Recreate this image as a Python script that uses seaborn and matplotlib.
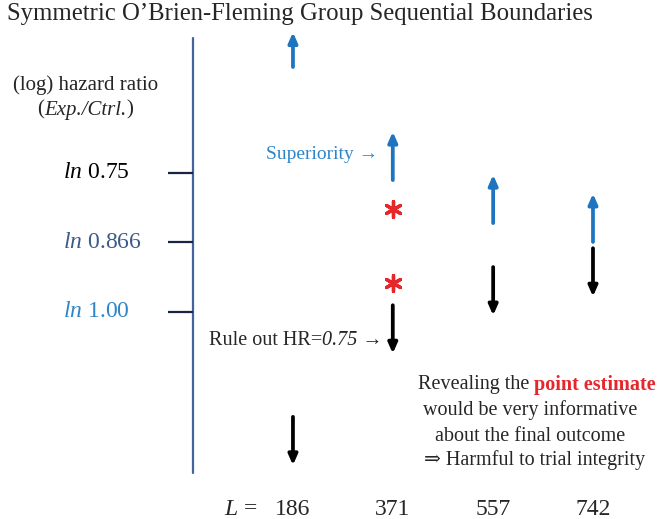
import numpy as np
import seaborn as sns
from matplotlib import pyplot as plt

# interim looks (number of events) and boundaries on the log hazard ratio scale
looks = [186, 371, 557, 742]
upper_bound = [-0.507, -0.273, -0.184, -0.145]   # superiority (blue, up)
lower_bound = [0.217, -0.014, -0.093, -0.132]    # rule out HR=0.75 (black, down)
ref_hr = [0.75, 0.866, 1.00]
ref_labels = ['0.75', '0.866', '1.00']
ref_colors = ['black', '#3d5a8c', '#2e86c8']
estimate_look = 371
point_estimates = [-0.213, -0.060]

sns.set_theme(style='white')
plt.rcParams['font.family'] = ['Liberation Serif', 'DejaVu Serif']
plt.rcParams['mathtext.fontset'] = 'custom'
plt.rcParams['mathtext.rm'] = 'Liberation Serif'
plt.rcParams['mathtext.it'] = 'Liberation Serif:italic'
plt.rcParams['mathtext.bf'] = 'Liberation Serif:bold'

blue = '#1f74c0'
red = '#e5262b'
fig = plt.figure(figsize = (6.62, 5.19), dpi = 100)
ax = fig.add_axes([0, 0, 1, 1])
ax.set_xlim(-356.9, 869.9)
ax.set_ylim(0.4284, -0.6457)
ax.set_axis_off()

# vertical axis and reference ticks
ax.plot([0, 0], [-0.567, 0.333], color = '#44649e', lw = 1.6)
ref_y = np.log(ref_hr)
ax.hlines(ref_y, -45, 0, color = '#1a2440', lw = 1.6)
for y, lab, c in zip(ref_y, ref_labels, ref_colors):
    ax.text(-240, y, r'$\mathit{ln}$ ' + lab, color = c, fontsize = 17,
            ha = 'left', va = 'center')

ax.text(-199, -0.470, '(log) hazard ratio', fontsize = 15, ha = 'center', va = 'center')
t = ax.text(-199, -0.418, 'Exp./Ctrl.', fontsize = 15, style = 'italic',
            ha = 'center', va = 'center')
ax.annotate('(', xy = (0, 0.5), xycoords = t, fontsize = 15, ha = 'right', va = 'center')
ax.annotate(')', xy = (1, 0.5), xycoords = t, fontsize = 15, ha = 'left', va = 'center')

# boundary arrows
arrow_len = 0.1
astyle = '-|>,head_width=0.22,head_length=0.5'
for L, up, lo in zip(looks, upper_bound, lower_bound):
    tip = max(up - arrow_len, -0.579)
    ax.annotate('', xy = (L, tip), xytext = (L, up),
                arrowprops = dict(arrowstyle = astyle, color = blue, lw = 2.7,
                                  mutation_scale = 12, shrinkA = 0, shrinkB = 0))
    ax.annotate('', xy = (L, lo + arrow_len), xytext = (L, lo),
                arrowprops = dict(arrowstyle = astyle, color = 'black', lw = 2.7,
                                  mutation_scale = 12, shrinkA = 0, shrinkB = 0))

# example point estimates
sns.scatterplot(x = [estimate_look] * len(point_estimates), y = point_estimates,
                marker = (6, 2, 0), s = 130, color = red, linewidth = 2.4,
                ax = ax, legend = False)

ax.text(343.6, -0.325, 'Superiority \u2192', color = '#2e86c8', fontsize = 14,
        ha = 'right', va = 'center')
t = ax.text(239.8, 0.058, 'Rule out HR=', fontsize = 14.5, ha = 'right', va = 'center')
ax.annotate('0.75 \u2192', xy = (1, 0.5), xycoords = t, fontsize = 14.5,
            style = 'italic', ha = 'left', va = 'center')

t = ax.text(632.6, 0.151, 'Revealing the ', fontsize = 14.5, ha = 'right', va = 'center')
ax.annotate('point estimate', xy = (1, 0.5), xycoords = t, fontsize = 14.5,
            ha = 'left', va = 'center', color = red, fontweight = 'bold')
ax.text(625.5, 0.203, 'would be very informative', fontsize = 14.5, ha = 'center', va = 'center')
ax.text(625.5, 0.257, 'about the final outcome', fontsize = 14.5, ha = 'center', va = 'center')
ax.text(634.5, 0.306, '\u21d2 Harmful to trial integrity', fontsize = 14.5,
        ha = 'center', va = 'center', family = ['Liberation Serif', 'DejaVu Serif'])

# look labels
for L in looks:
    ax.text(L, 0.409, str(L), fontsize = 17, ha = 'center', va = 'center')
ax.text(121.1, 0.409, r'$\mathit{L}$ =', fontsize = 17, ha = 'right', va = 'center')

fig.text(0.0106, 1 - 14 / 519, "Symmetric O\u2019Brien-Fleming Group Sequential Boundaries",
         fontsize = 17.8, ha = 'left', va = 'center')

fig.savefig('out.png', dpi = 100)
plt.close('all')
